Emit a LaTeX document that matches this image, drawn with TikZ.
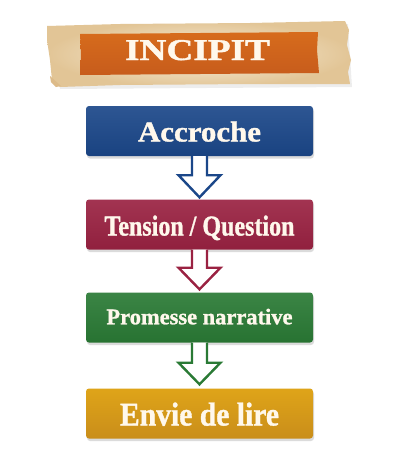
\documentclass[tikz,border=0pt]{standalone}
\usepackage{fontspec}
\setmainfont{Liberation Serif}[BoldFeatures={FakeBold=1.2}]
\usetikzlibrary{shadows,calc}
\definecolor{bluebox}{HTML}{1B4789}
\definecolor{redbox}{HTML}{9A2242}
\definecolor{greenbox}{HTML}{2A7A35}
\definecolor{goldbox}{HTML}{DB9A1C}
\definecolor{parch}{HTML}{F6E8CB}
\definecolor{parchedge}{HTML}{E2C596}
\definecolor{band}{HTML}{D4621E}
\definecolor{cream}{HTML}{FFF8EC}
\tikzset{
  stepbox/.style={rounded corners=3pt, minimum width=227pt, minimum height=50pt,
    text=cream, inner sep=0pt, text depth=0pt,
    drop shadow={shadow xshift=1pt, shadow yshift=-2.5pt, opacity=0.28}},
  flowarrow/.style={fill=white, line width=2.4pt, line join=miter},
}
\newcommand{\fitwh}[3]{\resizebox{#1pt}{#2pt}{\bfseries #3}}
\begin{document}
\begin{tikzpicture}[x=1pt,y=-1pt]
\useasboundingbox (0,0) rectangle (400,472);
\fill[white] (0,0) rectangle (400,472);

% parchment scroll
\fill[black,opacity=0.07] (50,28) -- (348,24) -- (352,87) -- (60,89) -- cycle;
\shade[inner color=parch!60!white, outer color=parchedge]
  (47,26) -- (120,24) -- (250,23) -- (345,21) -- (349,30) -- (347,45) -- (351,60)
  -- (348,72) -- (350,84) -- (250,84) -- (120,85) -- (60,87) -- (52,80) -- (50,60)
  -- (47,40) -- cycle;
\fill[parchedge!85!brown] (50,76) -- (61,86) -- (56,87) -- (51,82) -- cycle;
% orange band
\shade[top color=band!94!yellow, bottom color=band!94!black]
  (80,34) -- (200,33) -- (318,32) -- (317,50) -- (319,73) -- (200,74) -- (80,75)
  -- (81,55) -- cycle;
\node[text=cream, inner sep=0pt, text depth=0pt] (title) at (197.5,50)
  {\fitwh{145}{20}{INCIPIT}};

% boxes
\node[stepbox, top color=bluebox!92!white, bottom color=bluebox!94!black] (a) at (199.5,131)
  {\raisebox{-1pt}{\fitwh{123}{20}{Accroche}}};
\node[stepbox, top color=redbox!92!white, bottom color=redbox!94!black] (b) at (199.5,224.5)
  {\raisebox{-2pt}{\fitwh{190}{20}{Tension / Question}}};
\node[stepbox, top color=greenbox!92!white, bottom color=greenbox!94!black] (c) at (199.5,317.5)
  {\raisebox{2pt}{\fitwh{186}{15.5}{Promesse narrative}}};
\node[stepbox, top color=goldbox!90!yellow, bottom color=goldbox!92!black] (d) at (199.5,413.5)
  {\raisebox{-1pt}{\fitwh{159}{23}{Envie de lire}}};

% block arrows
\draw[flowarrow, draw=bluebox] ([xshift=-7.5pt]a.south) -- ++(0,19) -- ++(-13.5,0)
  -- ($(b.north)+(0,-2)$) -- ($(a.south)+(21,19)$) -- ++(-13.5,0) -- ([xshift=7.5pt]a.south);
\draw[flowarrow, draw=redbox] ([xshift=-7.5pt]b.south) -- ++(0,18) -- ++(-13.5,0)
  -- ($(c.north)+(0,-3)$) -- ($(b.south)+(21,18)$) -- ++(-13.5,0) -- ([xshift=7.5pt]b.south);
\draw[flowarrow, draw=greenbox] ([xshift=-7.5pt]c.south) -- ++(0,20) -- ++(-13.5,0)
  -- ($(d.north)+(0,-4)$) -- ($(c.south)+(21,20)$) -- ++(-13.5,0) -- ([xshift=7.5pt]c.south);
\end{tikzpicture}
\end{document}
